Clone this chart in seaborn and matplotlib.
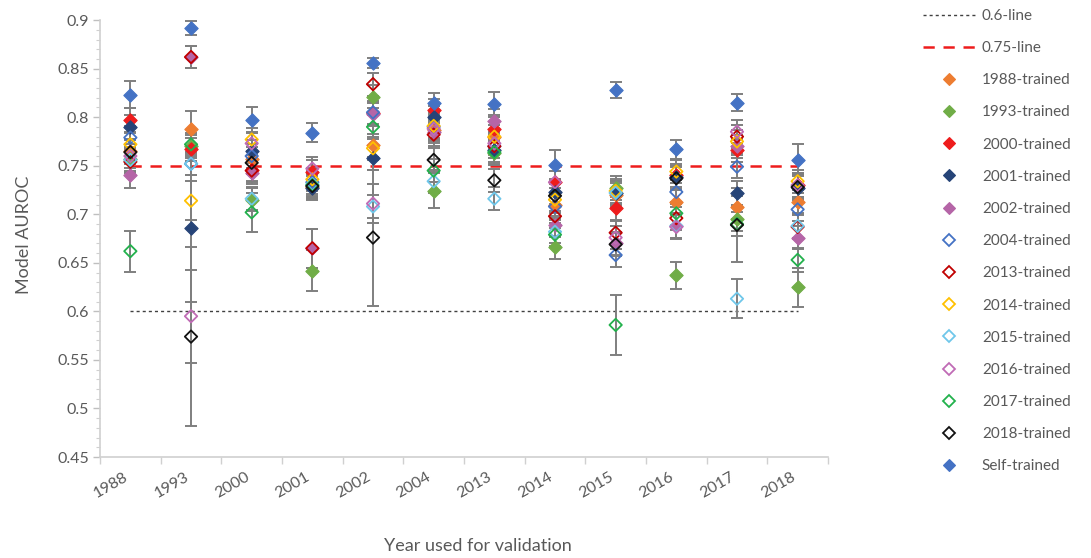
import matplotlib
matplotlib.use("Agg")
import matplotlib.pyplot as plt
import seaborn as sns
import pandas as pd
import numpy as np
from matplotlib.lines import Line2D

# ---------------- data ----------------
years = ["1988", "1993", "2000", "2001", "2002", "2004",
         "2013", "2014", "2015", "2016", "2017", "2018"]

series_names = ["1988-trained", "1993-trained", "2000-trained", "2001-trained",
                "2002-trained", "2004-trained", "2013-trained", "2014-trained",
                "2015-trained", "2016-trained", "2017-trained", "2018-trained",
                "Self-trained"]

val_1988 = [0.765, 0.788, 0.757, 0.728, 0.771, 0.787, 0.780, 0.710, 0.720, 0.713, 0.707, 0.713]
val_1993 = [0.757, 0.770, 0.715, 0.642, 0.821, 0.724, 0.763, 0.666, 0.727, 0.637, 0.695, 0.625]
val_2000 = [0.797, 0.767, 0.746, 0.744, 0.804, 0.807, 0.788, 0.733, 0.706, 0.740, 0.766, 0.730]
val_2001 = [0.790, 0.686, 0.765, 0.727, 0.758, 0.800, 0.766, 0.723, 0.722, 0.738, 0.722, 0.727]
val_2002 = [0.740, 0.862, 0.743, 0.665, 0.803, 0.785, 0.796, 0.689, 0.670, 0.688, 0.770, 0.676]
val_2004 = [0.779, 0.752, 0.760, 0.733, 0.805, 0.790, 0.770, 0.708, 0.658, 0.723, 0.749, 0.705]
val_2013 = [0.754, 0.862, 0.745, 0.665, 0.834, 0.782, 0.770, 0.698, 0.681, 0.696, 0.780, 0.687]
val_2014 = [0.772, 0.714, 0.777, 0.736, 0.768, 0.791, 0.780, 0.715, 0.724, 0.744, 0.775, 0.734]
val_2015 = [0.756, 0.752, 0.716, 0.731, 0.708, 0.734, 0.716, 0.682, 0.722, 0.688, 0.613, 0.688]
val_2016 = [0.760, 0.595, 0.773, 0.747, 0.711, 0.788, 0.773, 0.733, 0.676, 0.687, 0.785, 0.730]
val_2017 = [0.662, 0.772, 0.702, 0.730, 0.790, 0.745, 0.764, 0.679, 0.586, 0.701, 0.690, 0.653]
val_2018 = [0.764, 0.574, 0.753, 0.729, 0.676, 0.756, 0.735, 0.719, 0.669, 0.737, 0.689, 0.728]
val_self = [0.823, 0.892, 0.797, 0.784, 0.856, 0.815, 0.814, 0.751, 0.828, 0.767, 0.815, 0.756]

err_1988 = [0.012, 0.018, 0.012, 0.012, 0.012, 0.012, 0.012, 0.012, 0.012, 0.012, 0.012, 0.012]
err_1993 = [0.012, 0.012, 0.012, 0.021, 0.012, 0.018, 0.012, 0.012, 0.012, 0.014, 0.012, 0.020]
err_2000 = [0.012, 0.012, 0.012, 0.012, 0.012, 0.012, 0.012, 0.012, 0.012, 0.012, 0.012, 0.012]
err_2001 = [0.012, 0.076, 0.012, 0.012, 0.012, 0.012, 0.012, 0.012, 0.012, 0.012, 0.012, 0.012]
err_2002 = [0.013, 0.011, 0.012, 0.020, 0.012, 0.012, 0.012, 0.012, 0.012, 0.012, 0.012, 0.012]
err_2004 = [0.012, 0.012, 0.012, 0.012, 0.012, 0.012, 0.012, 0.012, 0.012, 0.012, 0.012, 0.012]
err_2013 = [0.012, 0.011, 0.012, 0.020, 0.012, 0.012, 0.012, 0.012, 0.012, 0.012, 0.012, 0.012]
err_2014 = [0.012, 0.020, 0.012, 0.012, 0.012, 0.012, 0.012, 0.012, 0.012, 0.012, 0.012, 0.012]
err_2015 = [0.012, 0.012, 0.012, 0.012, 0.012, 0.012, 0.012, 0.012, 0.012, 0.012, 0.020, 0.012]
err_2016 = [0.012, 0.048, 0.012, 0.012, 0.020, 0.012, 0.012, 0.012, 0.012, 0.012, 0.012, 0.012]
err_2017 = [0.021, 0.012, 0.020, 0.012, 0.012, 0.012, 0.012, 0.012, 0.031, 0.012, 0.012, 0.012]
err_2018 = [0.012, 0.092, 0.012, 0.012, 0.070, 0.012, 0.012, 0.012, 0.012, 0.012, 0.038, 0.012]
err_self = [0.014, 0.007, 0.013, 0.010, 0.005, 0.010, 0.012, 0.015, 0.008, 0.010, 0.009, 0.016]

thresholds = [0.6, 0.75]
threshold_labels = ["0.6-line", "0.75-line"]

values = [val_1988, val_1993, val_2000, val_2001, val_2002, val_2004, val_2013,
          val_2014, val_2015, val_2016, val_2017, val_2018, val_self]
errors = [err_1988, err_1993, err_2000, err_2001, err_2002, err_2004, err_2013,
          err_2014, err_2015, err_2016, err_2017, err_2018, err_self]

colors = ["#ED7D31", "#70AD47", "#EE1C1C", "#264478", "#B565A7", "#4472C4",
          "#C00000", "#FFC000", "#6FC7EA", "#C06BB5", "#22B14C", "#111111", "#4472C4"]
filled = [True, True, True, True, True, False, False, False, False, False, False, False, True]

rows = []
for name, vals, errs in zip(series_names, values, errors):
    for y, v, e in zip(years, vals, errs):
        rows.append({"year": y, "series": name, "value": v, "err": e})
df = pd.DataFrame(rows)

# ---------------- style ----------------
sns.set_theme(style="white")
plt.rcParams['font.family'] = ['Lato', 'DejaVu Sans']
text_color = "#595959"

fig = plt.figure(figsize=(10.91, 5.58), dpi=100)
ax = fig.add_axes([0.0917, 0.181, 0.6672, 0.783])

# error bars
for name in series_names:
    sub = df[df["series"] == name]
    ax.errorbar(sub["year"], sub["value"], yerr=sub["err"], fmt="none",
                ecolor="#7F7F7F", elinewidth=1.4, capsize=4, capthick=1.4, zorder=2)

# reference lines
ax.plot([years[0], years[-1]], [thresholds[0]] * 2, color="#404040",
        lw=1.0, dashes=(2.2, 2.2), zorder=1)
ax.plot([years[0], years[-1]], [thresholds[1]] * 2, color="#EE1C1C",
        lw=1.8, dashes=(4.5, 3.5), zorder=1)

# markers
for name, c, f in zip(series_names, colors, filled):
    sub = df[df["series"] == name]
    if f:
        sns.scatterplot(data=sub, x="year", y="value", marker="D", s=46,
                        facecolor=c, edgecolor=c, linewidth=0.8, ax=ax,
                        zorder=3, legend=False)
    else:
        sns.scatterplot(data=sub, x="year", y="value", marker="D", s=40,
                        facecolor="none", edgecolor=c, linewidth=1.3, ax=ax,
                        zorder=3, legend=False)

# axes formatting
ax.set_xlim(-0.5, len(years) - 0.5)
ax.set_ylim(0.45, 0.9)
yt = np.round(np.arange(0.45, 0.9001, 0.05), 2)
ax.set_yticks(yt)
ax.set_yticklabels([f"{v:g}" for v in yt])
ax.set_yticks(np.round(np.arange(0.45, 0.9001, 0.01), 2), minor=True)
ax.set_xticks(range(len(years)))
ax.set_xticklabels(years, rotation=30, ha="right")
ax.set_xticks(np.arange(-0.5, len(years), 1.0), minor=True)

ax.tick_params(axis="y", which="major", direction="out", length=5, width=1,
               color="#BFBFBF", labelsize=11.5, labelcolor=text_color, pad=3, left=True)
ax.tick_params(axis="y", which="minor", direction="out", length=3, width=0.8,
               color="#D0D0D0", left=True)
ax.tick_params(axis="x", which="major", length=0, labelsize=11.5,
               labelcolor=text_color, pad=9)
ax.tick_params(axis="x", which="minor", direction="out", length=5, width=1,
               color="#D0D0D0", bottom=True)

for s in ["top", "right"]:
    ax.spines[s].set_visible(False)
for s in ["left", "bottom"]:
    ax.spines[s].set_color("#D0D0D0")
    ax.spines[s].set_linewidth(1.2)

ax.set_xlabel("Year used for validation", fontsize=13, color=text_color)
ax.set_ylabel("Model AUROC", fontsize=13, color=text_color)
ax.xaxis.set_label_coords(0.519, -0.185)
ax.yaxis.set_label_coords(-0.093, 0.508)

# legend
handles = [
    Line2D([0], [0], color="#404040", lw=1.0, dashes=(2.2, 2.2)),
    Line2D([0], [0], color="#EE1C1C", lw=1.8, dashes=(4.5, 3.5)),
]
labels = list(threshold_labels)
for name, c, f in zip(series_names, colors, filled):
    handles.append(Line2D([0], [0], linestyle="none", marker="D", markersize=6.5,
                          markerfacecolor=c if f else "none", markeredgecolor=c,
                          markeredgewidth=0.8 if f else 1.3))
    labels.append(name)

leg = fig.legend(handles, labels, loc="upper left", bbox_to_anchor=(0.846, 0.984),
                 frameon=False, fontsize=11, handlelength=3.4, handletextpad=0.45,
                 labelspacing=1.19, borderpad=0, borderaxespad=0)
for t in leg.get_texts():
    t.set_color(text_color)

fig.savefig("out.png", dpi=100, facecolor="white")
